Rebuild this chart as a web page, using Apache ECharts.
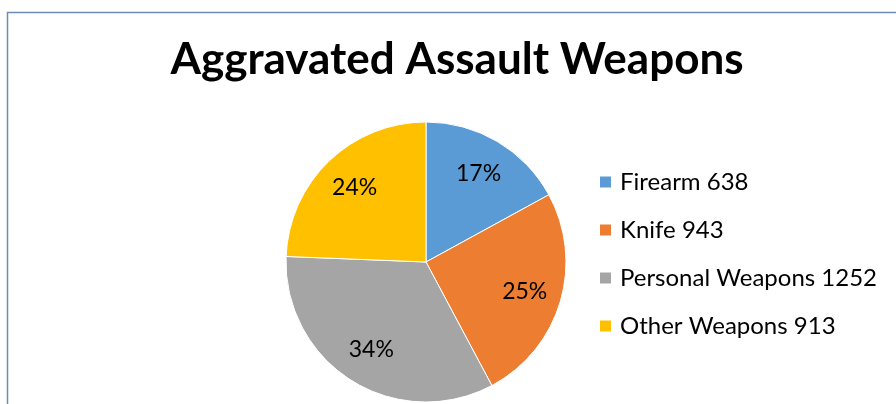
<!DOCTYPE html>
<html>
<head>
<meta charset="utf-8">
<script src="https://cdn.jsdelivr.net/npm/echarts@6/dist/echarts.min.js"></script>
<style>
  html, body { margin: 0; padding: 0; background: #fff; }
  #chart { width: 896px; height: 404px; }
</style>
</head>
<body>
<div id="chart"></div>
<script>
const categories = ["Firearm", "Knife", "Personal Weapons", "Other Weapons"]
const counts = [638, 943, 1252, 913]
const colors = ["#5B9BD5", "#ED7D31", "#A5A5A5", "#FFC000"]

const chart = echarts.init(document.getElementById("chart"))

const pieData = categories.map((name, i) => ({
  name: name,
  value: counts[i],
  itemStyle: { color: colors[i] },
}))

const option = {
  animation: false,
  title: {
    text: "Aggravated Assault Weapons",
    left: 457,
    top: 38,
    padding: 0,
    textAlign: "center",
    textStyle: {
      fontFamily: "Lato",
      fontWeight: "bold",
      fontSize: 44,
      color: "#000",
    },
  },
  legend: {
    orient: "vertical",
    left: 598,
    top: 170,
    padding: 0,
    icon: "rect",
    itemWidth: 13,
    itemHeight: 13,
    itemGap: 24,
    textStyle: {
      fontFamily: "Lato",
      fontSize: 24,
      color: "#000",
      padding: [0, 0, 0, 3],
    },
    formatter: (name) => name + " " + counts[categories.indexOf(name)],
    data: categories,
  },
  graphic: [
    {
      type: "rect",
      shape: { x: 7.5, y: 12.5, width: 1000, height: 500 },
      style: { fill: "none", stroke: "#6E8DB5", lineWidth: 1.5 },
      silent: true,
    },
  ],
  series: [
    {
      // the visible pie
      type: "pie",
      center: [426, 262],
      radius: 140,
      startAngle: 90,
      clockwise: true,
      label: { show: false },
      labelLine: { show: false },
      itemStyle: { borderColor: "#fff", borderWidth: 1 },
      data: pieData,
    },
    {
      // transparent twin, only used to place the percent labels further out
      type: "pie",
      center: [426, 262],
      radius: 200,
      startAngle: 90,
      clockwise: true,
      silent: true,
      percentPrecision: 0,
      itemStyle: { color: "transparent", borderWidth: 0 },
      label: {
        show: true,
        position: "inside",
        formatter: "{d}%",
        fontFamily: "Lato",
        fontSize: 23,
        color: "#000",
      },
      labelLine: { show: false },
      data: categories.map((name, i) => ({ name: name, value: counts[i] })),
    },
  ],
}

chart.setOption(option)
</script>
</body>
</html>
